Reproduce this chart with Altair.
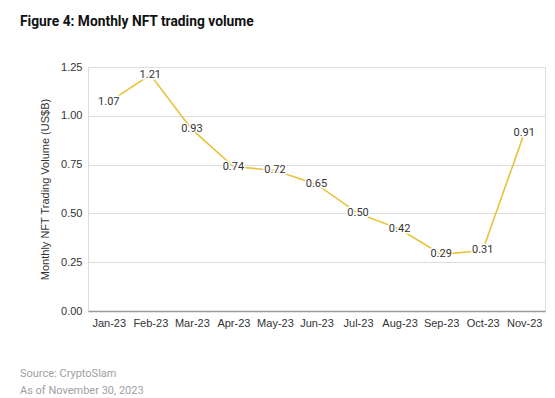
import altair as alt
import pandas as pd

months = ["Jan-23", "Feb-23", "Mar-23", "Apr-23", "May-23", "Jun-23",
          "Jul-23", "Aug-23", "Sep-23", "Oct-23", "Nov-23"]
volume = [1.07, 1.21, 0.93, 0.74, 0.72, 0.65, 0.50, 0.42, 0.29, 0.31, 0.91]
y_ticks = [0.0, 0.25, 0.5, 0.75, 1.0, 1.25]

title_text = "Figure 4: Monthly NFT trading volume"
source_lines = ["Source: CryptoSlam", "As of November 30, 2023"]

df = pd.DataFrame({"month": months, "volume": volume})

W, H = 457, 244
LEFT, TOP = 80, 59

x = alt.X("month:N", sort=months, scale=alt.Scale(paddingInner=0, paddingOuter=0),
          axis=alt.Axis(title=None, ticks=False, labelAngle=0, labelPadding=6,
                        labelFont="Liberation Sans", labelFontSize=11, labelColor="#333333",
                        domainColor="#9a9a9a", domainWidth=1.5, grid=False))
y = alt.Y("volume:Q", scale=alt.Scale(domain=[0, 1.25], nice=False),
          axis=alt.Axis(title="Monthly NFT Trading Volume (US$B)", values=y_ticks, format=".2f",
                        ticks=False, domain=False, labelPadding=6, titlePadding=10,
                        labelFont="Liberation Sans", labelFontSize=11, labelColor="#333333",
                        titleFont="Liberation Sans", titleFontSize=11, titleFontWeight="normal",
                        titleColor="#333333", gridColor="#dddddd", gridWidth=1))

base = alt.Chart(df)
line = base.mark_line(color="#E6C33A", strokeWidth=1.6).encode(x=x, y=y)
halo = base.mark_text(font="Roboto", fontSize=11, color="white", stroke="white",
                      strokeWidth=3).encode(x=x, y=y, text=alt.Text("volume:Q", format=".2f"))
labels = base.mark_text(font="Roboto", fontSize=11, color="#333333").encode(
    x=x, y=y, text=alt.Text("volume:Q", format=".2f"))

title = alt.Chart(pd.DataFrame({"t": [title_text]})).mark_text(
    font="Roboto", fontSize=13.8, fontWeight="bold", color="#111111",
    align="left", baseline="alphabetic").encode(
    x=alt.value(-68), y=alt.value(-41), text="t:N")

src1 = alt.Chart(pd.DataFrame({"t": [source_lines[0]]})).mark_text(
    font="Roboto", fontSize=11, color="#a0a0a0", align="left", baseline="alphabetic").encode(
    x=alt.value(-68), y=alt.value(377 - 67), text="t:N")
src2 = alt.Chart(pd.DataFrame({"t": [source_lines[1]]})).mark_text(
    font="Roboto", fontSize=11, color="#a0a0a0", align="left", baseline="alphabetic").encode(
    x=alt.value(-68), y=alt.value(394 - 67), text="t:N")

chart = alt.layer(line, halo, labels, title, src1, src2).properties(
    width=W, height=H,
    autosize=alt.AutoSizeParams(type="none"),
    padding={"left": LEFT, "top": TOP, "right": 2, "bottom": 86},
).configure_view(stroke=None).configure(background="white")

chart.save("out.html", embed_options={"renderer": "svg", "actions": False})
